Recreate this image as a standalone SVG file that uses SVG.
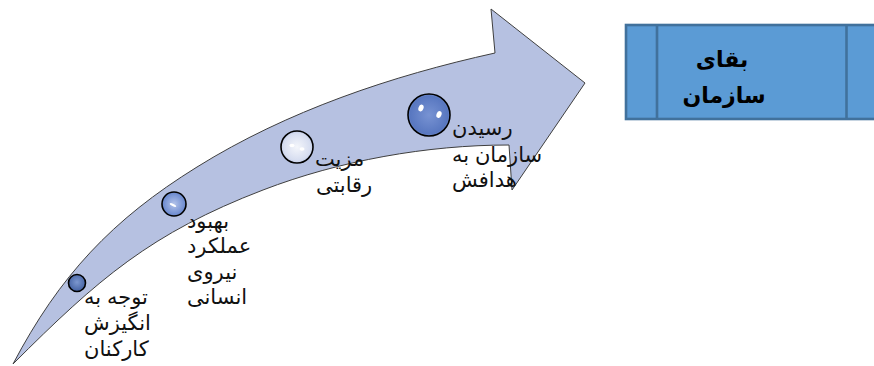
<svg xmlns="http://www.w3.org/2000/svg" width="874" height="366" viewBox="0 0 874 366">
  <style>
    .lbl { font-family: "Liberation Sans", "DejaVu Sans", sans-serif; font-size: 21px; fill: #111; }
    .box-lbl { font-family: "Liberation Sans", "DejaVu Sans", sans-serif; font-size: 22px; font-weight: bold; fill: #000; }
    .ring { stroke: #000; stroke-width: 1.6; }
    .hl { fill: #fff; }
  </style>
  <defs>
    <radialGradient id="g1" cx="0.5" cy="0.45" r="0.6">
      <stop offset="0" stop-color="#7C97CF"/>
      <stop offset="1" stop-color="#3E5C9E"/>
    </radialGradient>
    <radialGradient id="g2" cx="0.5" cy="0.5" r="0.6">
      <stop offset="0" stop-color="#B3C3EA"/>
      <stop offset="0.7" stop-color="#7390D2"/>
      <stop offset="1" stop-color="#5A78BD"/>
    </radialGradient>
    <radialGradient id="g3" cx="0.5" cy="0.5" r="0.6">
      <stop offset="0" stop-color="#F4F6FB"/>
      <stop offset="0.7" stop-color="#D6DDF0"/>
      <stop offset="1" stop-color="#A8B5DA"/>
    </radialGradient>
    <radialGradient id="g4" cx="0.5" cy="0.5" r="0.6">
      <stop offset="0" stop-color="#7893D3"/>
      <stop offset="0.75" stop-color="#5877C0"/>
      <stop offset="1" stop-color="#9DB0E0"/>
    </radialGradient>
  </defs>

  <g id="arrow">
    <path d="M 13,364 C 59.6,275.5 112,219.7 197,167 C 287,111 391.5,75.8 495,53 L 491,9 L 585,83 L 512,190 L 509,145 C 427,145 339.5,160.6 263,190 C 151,233 98,279 13,364 Z" fill="#B6C1E1" stroke="#3F3F3F" stroke-width="1"/>
  </g>

  <g id="step1">
    <circle cx="77" cy="283" r="8.5" fill="url(#g1)" class="ring"/>
    <text class="lbl" x="84" y="304">توجه به</text>
    <text class="lbl" x="84" y="330">انگیزش</text>
    <text class="lbl" x="84" y="356">کارکنان</text>
  </g>

  <g id="step2">
    <circle cx="174" cy="204" r="12" fill="url(#g2)" class="ring"/>
    <ellipse cx="173" cy="205" rx="3.5" ry="1.2" transform="rotate(25 173 205)" class="hl"/>
    <text class="lbl" x="187" y="228">بهبود</text>
    <text class="lbl" x="187" y="253">عملکرد</text>
    <text class="lbl" x="187" y="279">نیروی</text>
    <text class="lbl" x="187" y="304">انسانی</text>
  </g>

  <g id="step3">
    <circle cx="297" cy="147" r="16" fill="url(#g3)" class="ring"/>
    <ellipse cx="292" cy="145.5" rx="2.5" ry="1.8" class="hl"/>
    <ellipse cx="302" cy="149" rx="2.5" ry="1.8" class="hl"/>
    <text class="lbl" x="315" y="166">مزیت</text>
    <text class="lbl" x="316" y="192">رقابتی</text>
  </g>

  <g id="step4">
    <circle cx="429" cy="115" r="21" fill="url(#g4)" class="ring"/>
    <ellipse cx="421" cy="108" rx="2.5" ry="3.5" transform="rotate(20 421 108)" class="hl"/>
    <ellipse cx="439" cy="114.5" rx="2.5" ry="3.5" transform="rotate(20 439 114.5)" class="hl"/>
    <text class="lbl" x="452" y="135">رسیدن</text>
    <text class="lbl" x="452" y="162">سازمان به</text>
    <text class="lbl" x="452" y="187">هدافش</text>
  </g>

  <g id="survival">
    <rect x="626" y="25" width="260" height="94" fill="#5B9BD5" stroke="#41719C" stroke-width="2.6"/>
    <line x1="657" y1="25" x2="657" y2="119" stroke="#41719C" stroke-width="2.6"/>
    <line x1="846.5" y1="25" x2="846.5" y2="119" stroke="#41719C" stroke-width="2.6"/>
    <text class="box-lbl" x="722" y="67" text-anchor="middle">بقای</text>
    <text class="box-lbl" x="724" y="103" text-anchor="middle">سازمان</text>
  </g>
</svg>
